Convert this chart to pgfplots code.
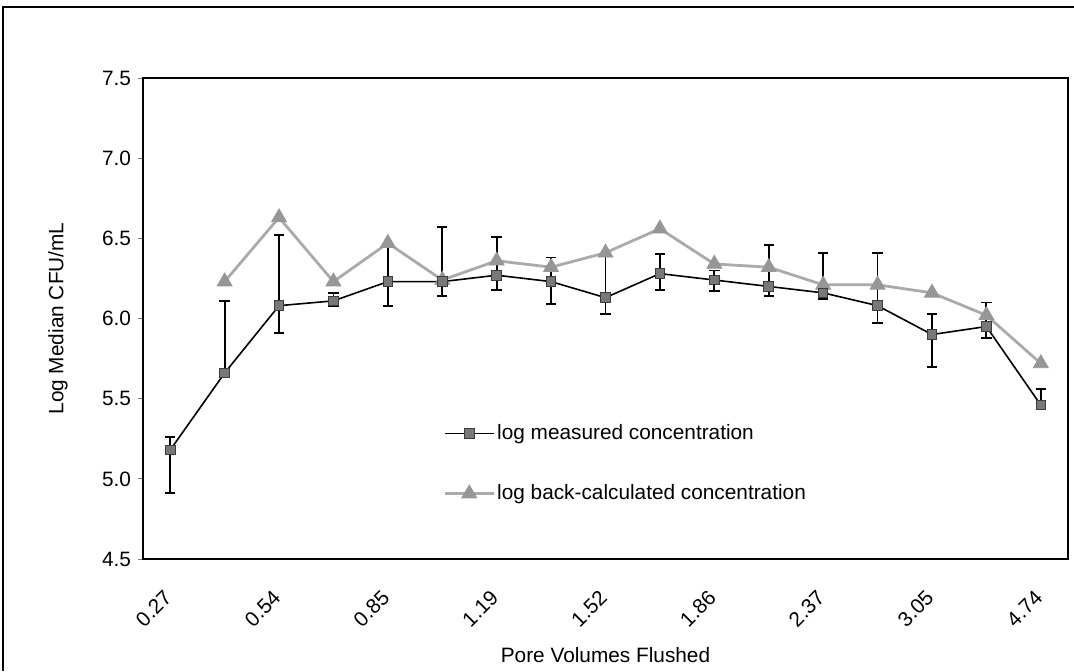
\documentclass[border=0pt]{standalone}
\usepackage{pgfplots}
\pgfplotsset{compat=1.18}
\usepackage{pgfplotstable}
\usepackage{fontspec}
\setmainfont{Liberation Sans}

% median log counts per sample; ep/em = upper/lower error
\pgfplotstableread{
i m ep em
0 5.18 0.08 0.27
1 5.66 0.45 0.00
2 6.08 0.44 0.17
3 6.11 0.05 0.03
4 6.23 0.22 0.15
5 6.23 0.34 0.09
6 6.27 0.24 0.09
7 6.23 0.15 0.14
8 6.13 0.27 0.10
9 6.28 0.12 0.10
10 6.24 0.06 0.07
11 6.20 0.26 0.06
12 6.16 0.25 0.04
13 6.08 0.33 0.11
14 5.90 0.13 0.20
15 5.95 0.15 0.07
16 5.46 0.10 0.02
}\measured

\pgfplotstableread{
i b
1 6.23
2 6.63
3 6.23
4 6.47
5 6.24
6 6.36
7 6.32
8 6.41
9 6.56
10 6.34
11 6.32
12 6.21
13 6.21
14 6.16
15 6.02
16 5.72
}\backcalc

\definecolor{meascol}{RGB}{120,120,120}
\definecolor{measedge}{RGB}{60,60,60}
\definecolor{backline}{RGB}{170,170,170}
\definecolor{backmark}{RGB}{150,150,150}

\begin{document}
\begin{tikzpicture}[font=\fontsize{10.4}{12.5}\selectfont]
\useasboundingbox (0,0) rectangle (537pt,335.5pt);
\draw[line width=0.6pt] (1.5pt,0) -- (1.5pt,332pt) -- (537pt,332pt);
\begin{axis}[
  at={(71.5pt,56pt)}, anchor=south west,
  scale only axis, width=462.5pt, height=240.5pt,
  xmin=-0.5, xmax=16.5, ymin=4.5, ymax=7.5,
  axis line style={line width=0.7pt},
  xtick={0,2,4,6,8,10,12,14,16},
  xticklabels={0.27,0.54,0.85,1.19,1.52,1.86,2.37,3.05,4.74},
  xtick style={draw=none},
  xticklabel style={rotate=45, anchor=east, xshift=-8pt, yshift=-10pt},
  ytick={4.5,5.0,5.5,6.0,6.5,7.0,7.5},
  ytick pos=left, xtick pos=bottom,
  tick align=outside, major tick length=2.5pt,
  ytick style={line width=0.5pt},
  yticklabel style={/pgf/number format/.cd, fixed, fixed zerofill, precision=1, assume math mode=true},
  xlabel={Pore Volumes Flushed},
  ylabel={Log Median CFU/mL},
  xlabel style={at={(axis description cs:0.5,-0.1996)}, anchor=center},
  ylabel style={at={(axis description cs:-0.092,0.5)}, anchor=center},
  legend image code/.code={\draw[mark repeat=2,mark phase=2,#1] plot coordinates {(0pt,0pt) (12.25pt,0pt) (24.5pt,0pt)};},
  legend style={at={(axis description cs:0.3243,0.1985)}, anchor=west, draw=none, fill=none,
    inner sep=0pt, row sep=19pt, nodes={inner sep=1pt}},
  legend cell align=left,
  reverse legend,
]
\addplot[backline, line width=1.4pt, mark=triangle*, mark size=4.3pt,
  mark options={fill=backmark, draw=backmark, line width=0.4pt}]
  table[x=i, y=b] {\backcalc};
\addlegendentry{log back-calculated concentration}

\addplot[black, line width=0.8pt, mark=square*, mark size=2.4pt,
  mark options={fill=meascol, draw=measedge, line width=0.5pt},
  error bars/.cd, y dir=both, y explicit,
  error bar style={black, line width=0.9pt},
  error mark=-,
  error mark options={rotate=90, black, line width=0.9pt, mark size=2.6pt}]
  table[x=i, y=m, y error plus=ep, y error minus=em] {\measured};
\addlegendentry{log measured concentration}
\end{axis}
\end{tikzpicture}
\end{document}
